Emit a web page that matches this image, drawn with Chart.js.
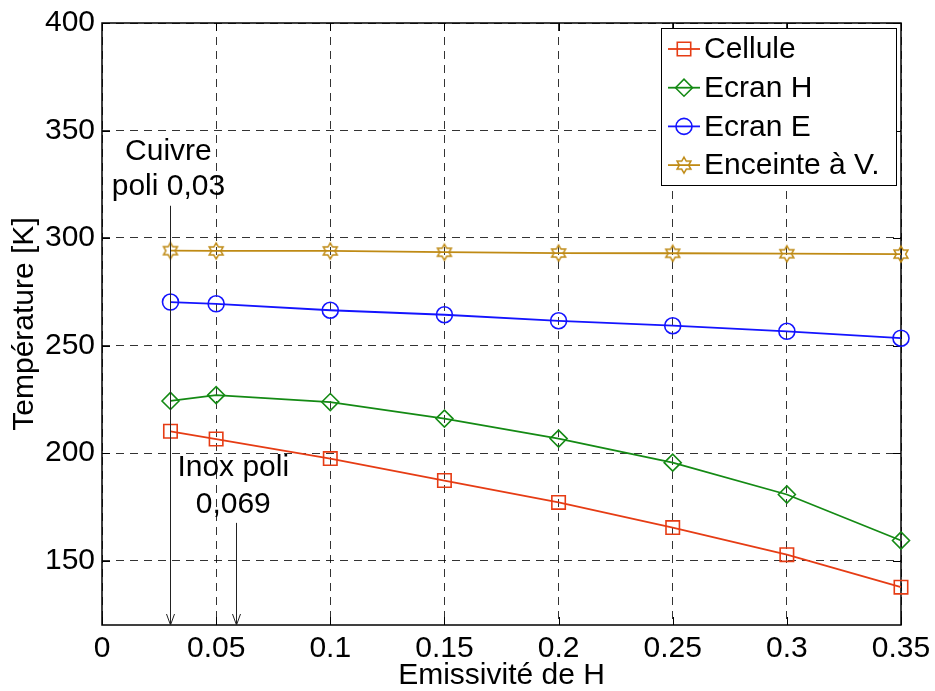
<!DOCTYPE html>
<html>
<head>
<meta charset="utf-8">
<script src="https://cdn.jsdelivr.net/npm/chart.js@4"></script>
<style>
  html, body { margin: 0; padding: 0; background: #fff; }
</style>
</head>
<body>
<canvas id="myChart" width="935" height="691"></canvas>
<script>
// Data
const emissivity = [0.03, 0.05, 0.1, 0.15, 0.2, 0.25, 0.3, 0.35];
const cellule   = [210.1, 206.5, 197.4, 187.2, 177.0, 165.3, 152.7, 137.6];
const ecranH    = [224.2, 226.9, 223.7, 216.0, 206.7, 195.5, 180.7, 159.3];
const ecranE    = [270.2, 269.4, 266.4, 264.3, 261.5, 259.2, 256.6, 253.4];
const enceinte  = [294.1, 294.0, 294.0, 293.4, 293.0, 292.9, 292.7, 292.5];
const seriesNames = ['Cellule', 'Ecran H', 'Ecran E', 'Enceinte à V.'];
const xTicks = [0, 0.05, 0.1, 0.15, 0.2, 0.25, 0.3, 0.35];
const yTicks = [150, 200, 250, 300, 350, 400];

// Annotations (arrow x, arrow top y, text lines)
const notes = [
  { x: 0.03, top: 315, textX: 0.0291, lines: ['Cuivre', 'poli 0,03'], textY: [340, 324] },
  { x: 0.0585, top: 167.5, textX: 0.0575, lines: ['Inox poli', '0,069'], textY: [193, 176] }
];

const FONT = 'Liberation Sans, Arial, Helvetica, sans-serif';

// hexagram marker for the last series
function hexagram(color) {
  const c = document.createElement('canvas');
  c.width = 20; c.height = 20;
  const g = c.getContext('2d');
  const R = 8, r = R / Math.sqrt(3);
  g.beginPath();
  for (let i = 0; i < 12; i++) {
    const a = -Math.PI / 2 + i * Math.PI / 6;
    const rr = i % 2 === 0 ? R : r;
    const px = 10 + rr * Math.cos(a), py = 10 + rr * Math.sin(a);
    i === 0 ? g.moveTo(px, py) : g.lineTo(px, py);
  }
  g.closePath();
  g.strokeStyle = color;
  g.lineWidth = 1.5;
  g.stroke();
  return c;
}

function points(values) {
  return emissivity.map((e, i) => ({ x: e, y: values[i] }));
}

function series(label, values, color, style, radius) {
  return {
    label: label,
    data: points(values),
    borderColor: color,
    backgroundColor: color,
    borderWidth: 1.8,
    pointStyle: style,
    pointRadius: radius,
    pointBorderColor: color,
    pointBackgroundColor: 'rgba(0,0,0,0)',
    pointBorderWidth: 1.6,
    tension: 0,
    clip: false
  };
}

// box + inward tick marks
const frame = {
  id: 'frame',
  beforeDatasetsDraw(chart) {
    const { ctx, chartArea: a, scales: { x, y } } = chart;
    ctx.save();
    ctx.strokeStyle = '#000';
    ctx.lineWidth = 1;
    ctx.beginPath();
    xTicks.forEach(v => {
      const px = Math.round(x.getPixelForValue(v)) + 0.5;
      ctx.moveTo(px, a.bottom); ctx.lineTo(px, a.bottom - 8);
      ctx.moveTo(px, a.top); ctx.lineTo(px, a.top + 8);
    });
    yTicks.forEach(v => {
      const py = Math.round(y.getPixelForValue(v)) + 0.5;
      ctx.moveTo(a.left, py); ctx.lineTo(a.left + 8, py);
      ctx.moveTo(a.right, py); ctx.lineTo(a.right - 8, py);
    });
    ctx.stroke();
    ctx.lineWidth = 1.5;
    ctx.strokeRect(a.left, a.top, a.right - a.left, a.bottom - a.top);
    ctx.restore();
  }
};

// arrows and text notes
const arrows = {
  id: 'arrows',
  afterDatasetsDraw(chart) {
    const { ctx, chartArea: a, scales: { x, y } } = chart;
    ctx.save();
    ctx.strokeStyle = '#222';
    ctx.lineWidth = 1;
    notes.forEach(n => {
      const px = Math.round(x.getPixelForValue(n.x)) + 0.5;
      const top = y.getPixelForValue(n.top);
      ctx.beginPath();
      ctx.moveTo(px, top); ctx.lineTo(px, a.bottom);
      ctx.moveTo(px - 4, a.bottom - 11); ctx.lineTo(px, a.bottom); ctx.lineTo(px + 4, a.bottom - 11);
      ctx.stroke();
      ctx.fillStyle = '#000';
      ctx.font = '30px ' + FONT;
      ctx.textAlign = 'center';
      ctx.textBaseline = 'middle';
      n.lines.forEach((t, i) => {
        ctx.fillText(t, x.getPixelForValue(n.textX), y.getPixelForValue(n.textY[i]));
      });
    });
    ctx.restore();
  }
};

// legend box in the upper right corner
const legendBox = {
  id: 'legendBox',
  afterDraw(chart) {
    const { ctx, chartArea: a } = chart;
    const w = 235, h = 157;
    const left = a.right - 5 - w, top = a.top + 5;
    ctx.save();
    ctx.fillStyle = '#fff';
    ctx.fillRect(left, top, w, h);
    ctx.strokeStyle = '#000';
    ctx.lineWidth = 1;
    ctx.strokeRect(left + 0.5, top + 0.5, w, h);
    chart.data.datasets.forEach((ds, i) => {
      const cy = top + 21 + i * 38.7;
      ctx.strokeStyle = ds.borderColor;
      ctx.lineWidth = ds.borderWidth;
      ctx.beginPath();
      ctx.moveTo(left + 7, cy); ctx.lineTo(left + 39, cy);
      ctx.stroke();
      ctx.fillStyle = 'rgba(0,0,0,0)';
      ctx.lineWidth = ds.pointBorderWidth;
      Chart.helpers.drawPoint(ctx, {
        pointStyle: ds.pointStyle, radius: ds.pointRadius,
        borderWidth: ds.pointBorderWidth, rotation: 0
      }, left + 23, cy);
      ctx.fillStyle = '#000';
      ctx.font = '30px ' + FONT;
      ctx.textAlign = 'left';
      ctx.textBaseline = 'middle';
      ctx.fillText(seriesNames[i], left + 43, cy + 1);
    });
    ctx.restore();
  }
};

const gridStyle = { color: 'rgba(0,0,0,0.8)', lineWidth: 1, drawTicks: false };

const ctx = document.getElementById('myChart');

new Chart(ctx, {
  type: 'line',
  data: {
    datasets: [
      series(seriesNames[0], cellule, '#e63c14', 'rect', 9.5),
      series(seriesNames[1], ecranH, '#148a14', 'rectRot', 8.5),
      series(seriesNames[2], ecranE, '#1414ff', 'circle', 8),
      series(seriesNames[3], enceinte, '#bf8a14', hexagram('#bf8a14'), 8)
    ]
  },
  options: {
    responsive: false,
    animation: false,
    layout: { padding: { top: 23, right: 34, left: 0, bottom: 0 } },
    plugins: {
      legend: { display: false },
      tooltip: { enabled: false }
    },
    scales: {
      x: {
        type: 'linear',
        min: 0,
        max: 0.35,
        afterBuildTicks: s => { s.ticks = xTicks.map(v => ({ value: v })); },
        afterFit: s => { s.height = 66; s.paddingLeft = 0; s.paddingRight = 0; },
        ticks: {
          color: '#000',
          padding: 6,
          maxRotation: 0,
          autoSkip: false,
          font: { family: FONT, size: 30 },
          callback: v => String(v)
        },
        grid: gridStyle,
        border: { display: false, dash: [8, 6] },
        title: {
          display: true,
          text: 'Emissivité de H',
          color: '#000',
          font: { family: FONT, size: 30, lineHeight: 1 },
          padding: { top: 0, bottom: 0 }
        }
      },
      y: {
        type: 'linear',
        min: 120,
        max: 400,
        afterBuildTicks: s => { s.ticks = yTicks.map(v => ({ value: v })); },
        afterFit: s => { s.width = 102; s.paddingTop = 0; s.paddingBottom = 0; },
        ticks: {
          color: '#000',
          padding: 7,
          autoSkip: false,
          font: { family: FONT, size: 30 }
        },
        grid: gridStyle,
        border: { display: false, dash: [8, 6] },
        title: {
          display: true,
          text: 'Température [K]',
          color: '#000',
          font: { family: FONT, size: 30, lineHeight: 1 },
          padding: { top: 10, bottom: 10 }
        }
      }
    }
  },
  plugins: [frame, arrows, legendBox]
});
</script>
</body>
</html>
